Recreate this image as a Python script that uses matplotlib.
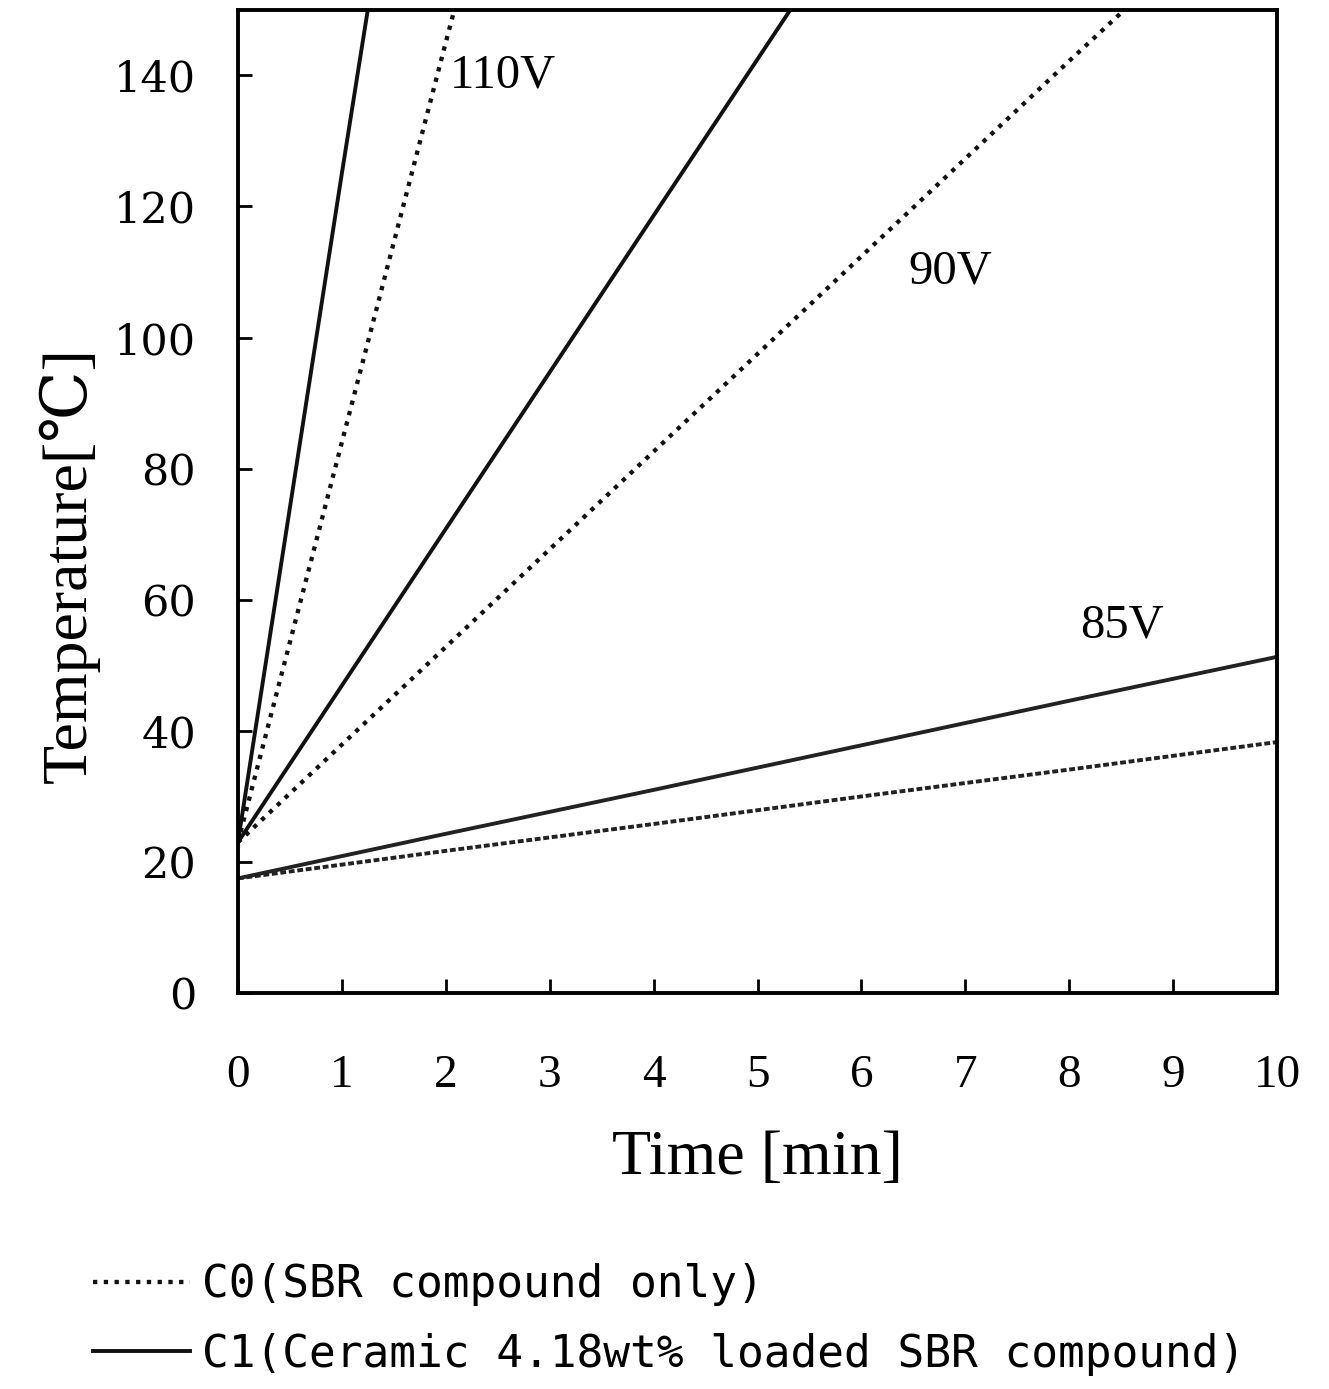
import numpy as np
import matplotlib
matplotlib.use('Agg')
import matplotlib.pyplot as plt

# ── data (time [min], temperature [°C]) ─────────────────────────────
t_110_c1 = [0, 0.5, 1.0, 1.25]
T_110_c1 = [23, 74, 125, 150]
t_110_c0 = [0, 1, 2, 2.1]
T_110_c0 = [23, 84, 145, 151]

t_90_c1 = [0, 2, 4, 5.4]
T_90_c1 = [23, 70.8, 118.6, 152]
t_90_c0 = [0, 2, 4, 6, 8, 8.6]
T_90_c0 = [23, 52.8, 82.6, 112.4, 142.2, 151]

t_85 = [0, 2, 4, 6, 8, 10]
T_85_c1 = [17.5, 24.3, 31.0, 37.8, 44.6, 51.3]
T_85_c0 = [17.5, 21.7, 25.8, 30.0, 34.1, 38.3]

x_ticks = list(range(0, 11))
y_ticks = list(range(0, 141, 20))

labels_volt = ['110V', '90V', '85V']
label_pos = [(2.04, 140), (6.45, 110), (8.1, 56)]

leg_labels = ['C0(SBR compound only)',
              'C1(Ceramic 4.18wt% loaded SBR compound)']

SERIF = ['Liberation Serif', 'DejaVu Serif', 'Noto Sans CJK KR']

fig = plt.figure(figsize=(13.29, 13.89), dpi=100)
ax = fig.add_axes([0.179, 0.285, 0.782, 0.708])

lw = 2.8
solid_kw = dict(color='#111111', lw=lw, ls='-')
dot_kw = dict(color='#111111', lw=lw + 0.3, ls=(0, (1, 1.5)))

ax.plot(t_110_c1, T_110_c1, **solid_kw)
ax.plot(t_110_c0, T_110_c0, **dot_kw)
l_c1, = ax.plot(t_90_c1, T_90_c1, **solid_kw)
l_c0, = ax.plot(t_90_c0, T_90_c0, **dot_kw)
ax.plot(t_85, T_85_c1, color='#222222', lw=lw)
ax.plot(t_85, T_85_c0, color='#222222', lw=lw, ls=(0, (1.5, 0.7)))

for txt, (xx, yy) in zip(labels_volt, label_pos):
    ax.text(xx, yy, txt, fontsize=35, family=SERIF, ha='left', va='center')

ax.set_xlim(0, 10)
ax.set_ylim(0, 150)
ax.set_xticks(x_ticks)
ax.set_yticks(y_ticks)

for sp in ax.spines.values():
    sp.set_linewidth(2.8)

ax.tick_params(axis='both', direction='in', length=10, width=2)
ax.tick_params(axis='x', pad=44)
ax.tick_params(axis='y', pad=30)
for lab in ax.get_xticklabels():
    lab.set_fontsize(34)
    lab.set_family(SERIF)
for lab in ax.get_yticklabels():
    lab.set_fontsize(31)
    lab.set_family(['DejaVu Serif'])

ax.set_xlabel('Time [min]', fontsize=46, family=SERIF)
ax.xaxis.set_label_coords(0.5, -0.139)
ax.set_ylabel('Temperature[℃]', fontsize=46, family=SERIF)
ax.yaxis.set_label_coords(-0.133, 0.435)

fig.legend([l_c0, l_c1], leg_labels, loc='upper left',
           bbox_to_anchor=(0.0697, 0.0906), frameon=False,
           prop={'family': 'DejaVu Sans Mono', 'size': 32},
           handlelength=2.2, handletextpad=0.25, labelspacing=0.6,
           borderpad=0, borderaxespad=0)

fig.savefig('out.png', dpi=100)
